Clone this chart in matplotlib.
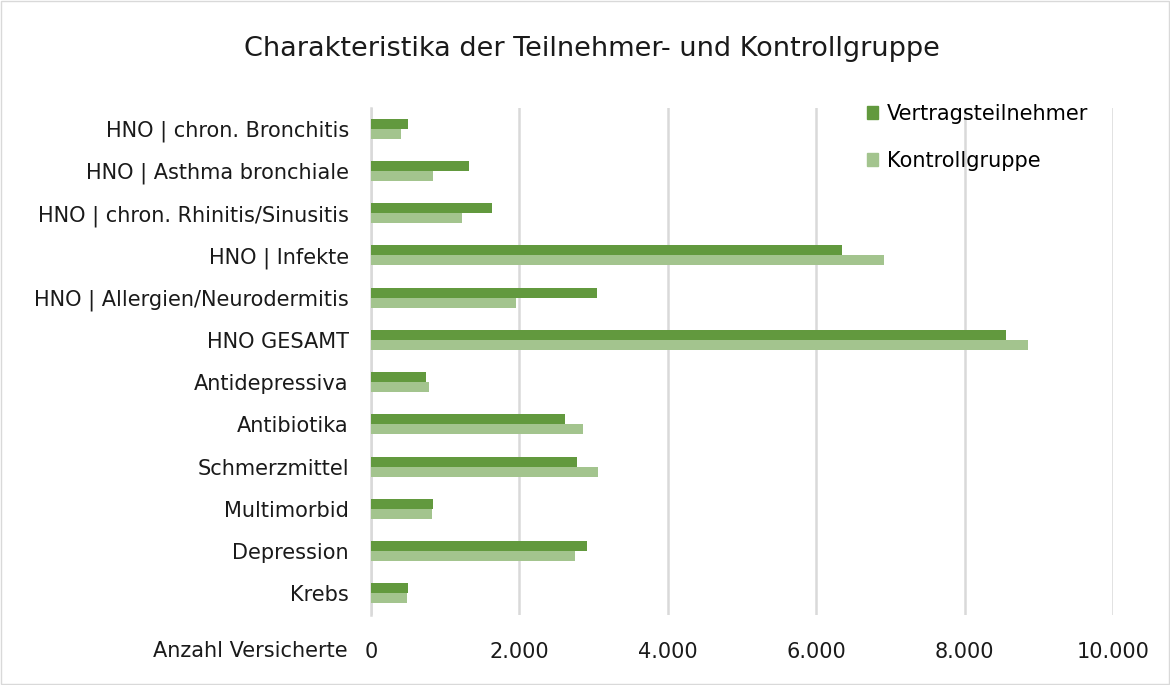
import numpy as np
import matplotlib.pyplot as plt
from matplotlib.patches import Patch, Rectangle

categories = ['HNO | chron. Bronchitis', 'HNO | Asthma bronchiale',
              'HNO | chron. Rhinitis/Sinusitis', 'HNO | Infekte',
              'HNO | Allergien/Neurodermitis', 'HNO GESAMT', 'Antidepressiva',
              'Antibiotika', 'Schmerzmittel', 'Multimorbid', 'Depression', 'Krebs']
vertrag = [496, 1315, 1626, 6350, 3050, 8560, 743, 2610, 2770, 833, 2910, 500]
kontrolle = [401, 833, 1220, 6920, 1960, 8860, 784, 2860, 3055, 820, 2750, 486]
xticks = [0, 2000, 4000, 6000, 8000, 10000]
xticklabels = ['0', '2.000', '4.000', '6.000', '8.000', '10.000']

dark = '#62993e'
light = '#a3c48e'
grid = '#d9d9d9'
fs = 15

plt.rcParams['font.family'] = ['DejaVu Sans']

fig = plt.figure(figsize=(11.7, 6.85), dpi=100)
ax = fig.add_axes([371/1170, 1 - 614.5/685, (1113-371)/1170, (614.5-107.5)/685])

y = np.arange(len(categories))
h = 0.235
ax.barh(y - h/2, vertrag, height=h, color=dark, label='Vertragsteilnehmer', zorder=3)
ax.barh(y + h/2, kontrolle, height=h, color=light, label='Kontrollgruppe', zorder=3)

ax.set_ylim(len(categories) - 0.5, -0.5)
ax.set_xlim(0, 10000)
ax.set_yticks(y)
ax.set_yticklabels(categories, fontsize=fs, color='#1a1a1a')
ax.set_xticks(xticks)
ax.set_xticklabels(xticklabels, fontsize=fs, color='#1a1a1a')
ax.tick_params(axis='y', length=0, pad=16)
ax.tick_params(axis='x', length=0, pad=20)
ax.grid(axis='x', color=grid, linewidth=1.8, zorder=0)
for s in ['top', 'right', 'bottom']:
    ax.spines[s].set_visible(False)
ax.spines['left'].set_color(grid)
ax.spines['left'].set_linewidth(1.8)

fig.text(348/1170, 1 - 651/685, 'Anzahl Versicherte', ha='right', va='center',
         fontsize=fs, color='#1a1a1a')
fig.text(592/1170, 1 - 48.5/685, 'Charakteristika der Teilnehmer- und Kontrollgruppe',
         ha='center', va='center', fontsize=19.5, color='#1a1a1a')

handles = [Patch(color=dark, label='Vertragsteilnehmer'),
           Patch(color=light, label='Kontrollgruppe')]
fig.legend(handles=handles, loc='upper left', bbox_to_anchor=(867/1170, 1 - 104/685),
           frameon=False, fontsize=fs, handlelength=0.55, handleheight=0.55,
           handletextpad=0.4, labelspacing=1.3, borderaxespad=0, borderpad=0)

fig.patches.append(Rectangle((0.001, 0.001), 0.998, 0.998, transform=fig.transFigure,
                             fill=False, edgecolor=grid, linewidth=1))

fig.savefig('out.png', dpi=100)
